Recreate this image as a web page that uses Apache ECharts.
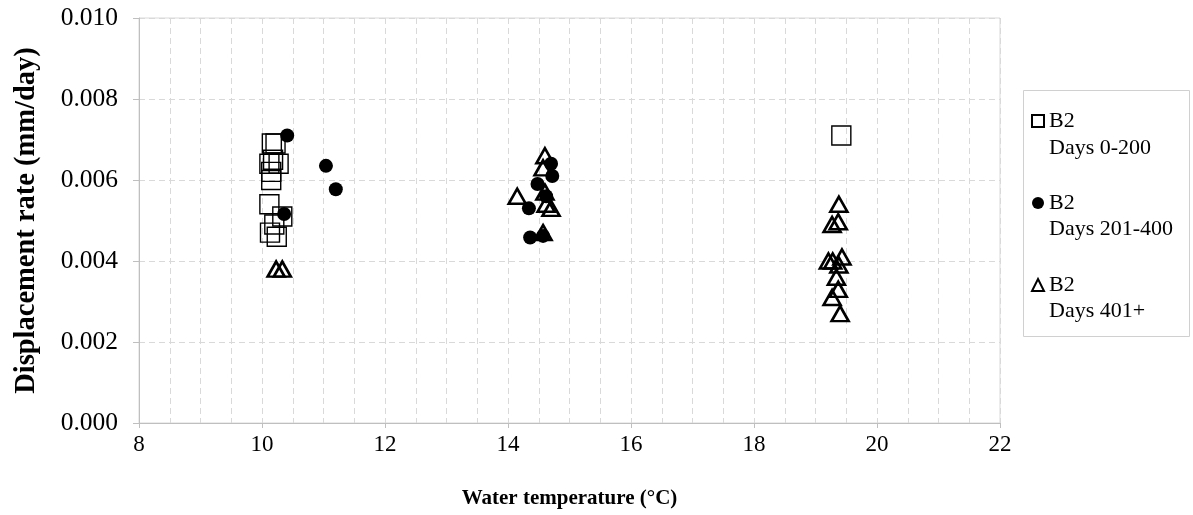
<!DOCTYPE html>
<html>
<head>
<meta charset="utf-8">
<script src="https://cdn.jsdelivr.net/npm/echarts@6/dist/echarts.min.js"></script>
<style>
  html, body { margin: 0; padding: 0; background: #ffffff; }
  #chart { width: 1193px; height: 515px; }
</style>
</head>
<body>
<div id="chart"></div>
<script>
// Water temperature (°C) vs displacement rate (mm/day), borehole B2
const seriesNames = ['B2 Days 0-200', 'B2 Days 201-400', 'B2 Days 401+'];
const legendLines = ['Days 0-200', 'Days 201-400', 'Days 401+'];

const days0to200 = [
  [10.16, 0.0069], [10.22, 0.0069], [10.12, 0.0064], [10.18, 0.0065],
  [10.27, 0.0064], [10.15, 0.0062], [10.15, 0.0060], [10.12, 0.0054],
  [10.33, 0.0051], [10.20, 0.0049], [10.13, 0.0047], [10.24, 0.0046],
  [19.42, 0.0071]
];

const days201to400 = [
  [10.41, 0.0071], [11.04, 0.00635], [11.20, 0.00577], [10.36, 0.00516],
  [14.70, 0.0064], [14.72, 0.0061], [14.48, 0.0059], [14.62, 0.0056],
  [14.34, 0.0053], [14.36, 0.00458], [14.57, 0.00462]
];

const days401plus = [
  [10.23, 0.0038], [10.33, 0.0038],
  [14.60, 0.0066], [14.57, 0.0063], [14.60, 0.0057], [14.15, 0.0056],
  [14.62, 0.0054], [14.70, 0.0053], [14.57, 0.0047],
  [19.38, 0.0054], [19.27, 0.0049], [19.37, 0.00497], [19.21, 0.0040],
  [19.28, 0.0040], [19.43, 0.0041], [19.38, 0.0039], [19.34, 0.0036],
  [19.37, 0.0033], [19.27, 0.0031], [19.40, 0.0027]
];

const SERIF = 'Liberation Serif, Times New Roman, serif';
const gridLine = { color: '#d9d9d9', width: 1, type: [6, 4] };

const chart = echarts.init(document.getElementById('chart'), null, { renderer: 'canvas' });

chart.setOption({
  animation: false,
  backgroundColor: '#ffffff',
  textStyle: { fontFamily: SERIF, color: '#000' },
  grid: {
    left: 139, right: 193, top: 18, bottom: 92,
    show: true, borderColor: '#d9d9d9', borderWidth: 1
  },
  xAxis: {
    type: 'value',
    min: 8, max: 22, interval: 2,
    name: 'Water temperature (°C)',
    nameLocation: 'middle',
    nameGap: 65,
    nameTextStyle: { fontFamily: SERIF, fontWeight: 'bold', fontSize: 21, color: '#000' },
    axisLine: { show: true, lineStyle: { color: '#bfbfbf', width: 1 } },
    axisTick: { show: true, inside: false, length: 5, lineStyle: { color: '#bfbfbf' } },
    axisLabel: { fontFamily: SERIF, fontSize: 23, color: '#000', margin: 10 },
    splitLine: { show: true, lineStyle: gridLine },
    minorTick: { show: false, splitNumber: 4 },
    minorSplitLine: { show: true, lineStyle: gridLine }
  },
  yAxis: {
    type: 'value',
    min: 0, max: 0.01, interval: 0.002,
    name: 'Displacement rate (mm/day)',
    nameLocation: 'middle',
    nameGap: 98,
    nameRotate: 90,
    nameTextStyle: { fontFamily: SERIF, fontWeight: 'bold', fontSize: 28.5, color: '#000' },
    axisLine: { show: true, lineStyle: { color: '#bfbfbf', width: 1 } },
    axisTick: { show: true, inside: false, length: 6, lineStyle: { color: '#bfbfbf' } },
    axisLabel: {
      fontFamily: SERIF, fontSize: 25.5, color: '#000', margin: 21,
      formatter: v => v.toFixed(3)
    },
    splitLine: { show: true, lineStyle: gridLine }
  },
  legend: {
    orient: 'vertical',
    left: 1031, top: 110,
    padding: 0,
    itemGap: 60,
    itemWidth: 12, itemHeight: 12,
    data: seriesNames,
    formatter: () => 'B2',
    textStyle: { fontFamily: SERIF, fontSize: 22, color: '#000' },
    selectedMode: false
  },
  graphic: [
    {
      type: 'rect',
      shape: { x: 1023.5, y: 90.5, width: 166, height: 246 },
      style: { fill: 'none', stroke: '#d0d0d0', lineWidth: 1 },
      silent: true
    },
    ...legendLines.map((t, i) => ({
      type: 'text',
      left: 1049,
      top: [137, 218, 300][i],
      style: { text: t, font: '22px ' + SERIF, fill: '#000' },
      silent: true
    }))
  ],
  series: [
    {
      name: seriesNames[0],
      type: 'scatter',
      data: days0to200,
      symbol: 'rect',
      symbolSize: 19,
      itemStyle: { color: 'rgba(0,0,0,0)', borderColor: '#000', borderWidth: 1.4, opacity: 1 },
      z: 3
    },
    {
      name: seriesNames[1],
      type: 'scatter',
      data: days201to400,
      symbol: 'circle',
      symbolSize: 14,
      itemStyle: { color: '#000', borderColor: '#000', borderWidth: 0, opacity: 1 },
      z: 4
    },
    {
      name: seriesNames[2],
      type: 'scatter',
      data: days401plus,
      symbol: 'triangle',
      symbolSize: [17, 15],
      itemStyle: { color: 'rgba(0,0,0,0)', borderColor: '#000', borderWidth: 2.6, opacity: 1 },
      z: 5
    }
  ]
});
</script>
</body>
</html>
